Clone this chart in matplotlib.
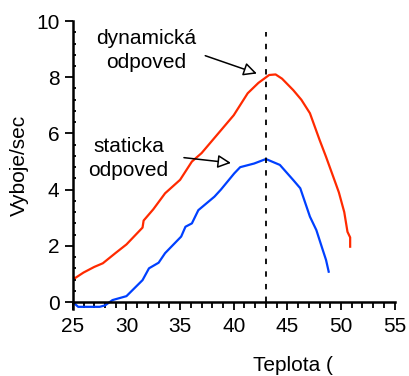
import matplotlib
matplotlib.use('Agg')
import matplotlib.pyplot as plt
from matplotlib.ticker import MultipleLocator

plt.rcParams['font.family'] = ['Liberation Sans', 'DejaVu Sans']

#.........dynamic response (red)...........................
t_dyn = [25.0, 25.2, 26.0, 27.0, 27.8, 29.0, 30.0, 31.0, 31.5, 31.6, 32.5, 33.6,
         35.0, 36.1, 37.0, 38.0, 39.0, 40.0, 41.3, 42.3, 43.3, 43.9, 44.5, 45.55,
         46.3, 47.1, 48.0, 48.6, 49.5, 49.8, 50.3, 50.6, 50.85, 50.85]
v_dyn = [0.90, 0.85, 1.05, 1.25, 1.38, 1.75, 2.05, 2.45, 2.65, 2.9, 3.3, 3.87,
         4.35, 5.0, 5.3, 5.75, 6.2, 6.65, 7.43, 7.8, 8.08, 8.1, 7.95, 7.54,
         7.2, 6.72, 5.77, 5.17, 4.22, 3.9, 3.2, 2.5, 2.3, 1.97]

#.........static response (blue)...........................
t_sta = [25.0, 25.5, 26.5, 27.5, 28.0, 28.7, 30.0, 31.5, 32.1, 33.0, 33.6, 35.1,
         35.5, 36.1, 36.7, 38.2, 38.8, 40.05, 40.6, 41.9, 43.0, 44.3, 45.55, 46.2,
         47.1, 47.7, 48.3, 48.6, 48.85]
v_sta = [0.0, -0.17, -0.17, -0.17, -0.12, 0.07, 0.21, 0.78, 1.2, 1.4, 1.74, 2.33,
         2.68, 2.8, 3.27, 3.75, 4.0, 4.58, 4.8, 4.93, 5.09, 4.88, 4.34, 4.05,
         3.04, 2.56, 1.85, 1.5, 1.08]

t_mark = 43.0          # vertical dashed marker

fig = plt.figure(figsize=(4.09, 3.76), dpi=100)
ax = fig.add_axes([0.178, 0.178, 0.787, 0.766])

ax.plot(t_dyn, v_dyn, color='#ff2a00', lw=1.6)
ax.plot(t_sta, v_sta, color='#0040ff', lw=1.6)
ax.plot([t_mark, t_mark], [0, 9.6], color='black', lw=1.3, ls=(0, (3, 4)))

ax.set_xlim(25, 55)
ax.set_ylim(-0.25, 10)
ax.spines['bottom'].set_position(('data', 0))
ax.spines['top'].set_visible(False)
ax.spines['right'].set_visible(False)
for s in ['left', 'bottom']:
    ax.spines[s].set_linewidth(1.8)

ax.xaxis.set_major_locator(MultipleLocator(5))
ax.xaxis.set_minor_locator(MultipleLocator(1))
ax.yaxis.set_major_locator(MultipleLocator(2))
ax.yaxis.set_minor_locator(MultipleLocator(0.4))
ax.tick_params(axis='both', which='major', labelsize=15, length=6, width=1.3, direction='out')
ax.tick_params(axis='x', which='minor', length=4, width=1.3, direction='out')
ax.tick_params(axis='y', which='minor', length=2.5, width=1.3, direction='in')
ax.tick_params(axis='x', pad=5)

ax.set_ylabel('Vyboje/sec', fontsize=15, labelpad=5)
ax.text(41.8, -2.25, 'Teplota (', fontsize=15, ha='left', va='center')

arrow = dict(arrowstyle='-|>', fc='white', ec='black', lw=1.1, mutation_scale=20)
ax.annotate('', xy=(42.4, 8.1), xytext=(37.1, 8.8), arrowprops=arrow)
ax.annotate('', xy=(40.0, 4.94), xytext=(35.1, 5.15), arrowprops=arrow)
ax.text(31.8, 8.95, 'dynamická\nodpoved', fontsize=15, ha='center', va='center', linespacing=1.3)
ax.text(30.2, 5.1, 'staticka\nodpoved', fontsize=15, ha='center', va='center', linespacing=1.3)

fig.savefig('out.png', dpi=100)
